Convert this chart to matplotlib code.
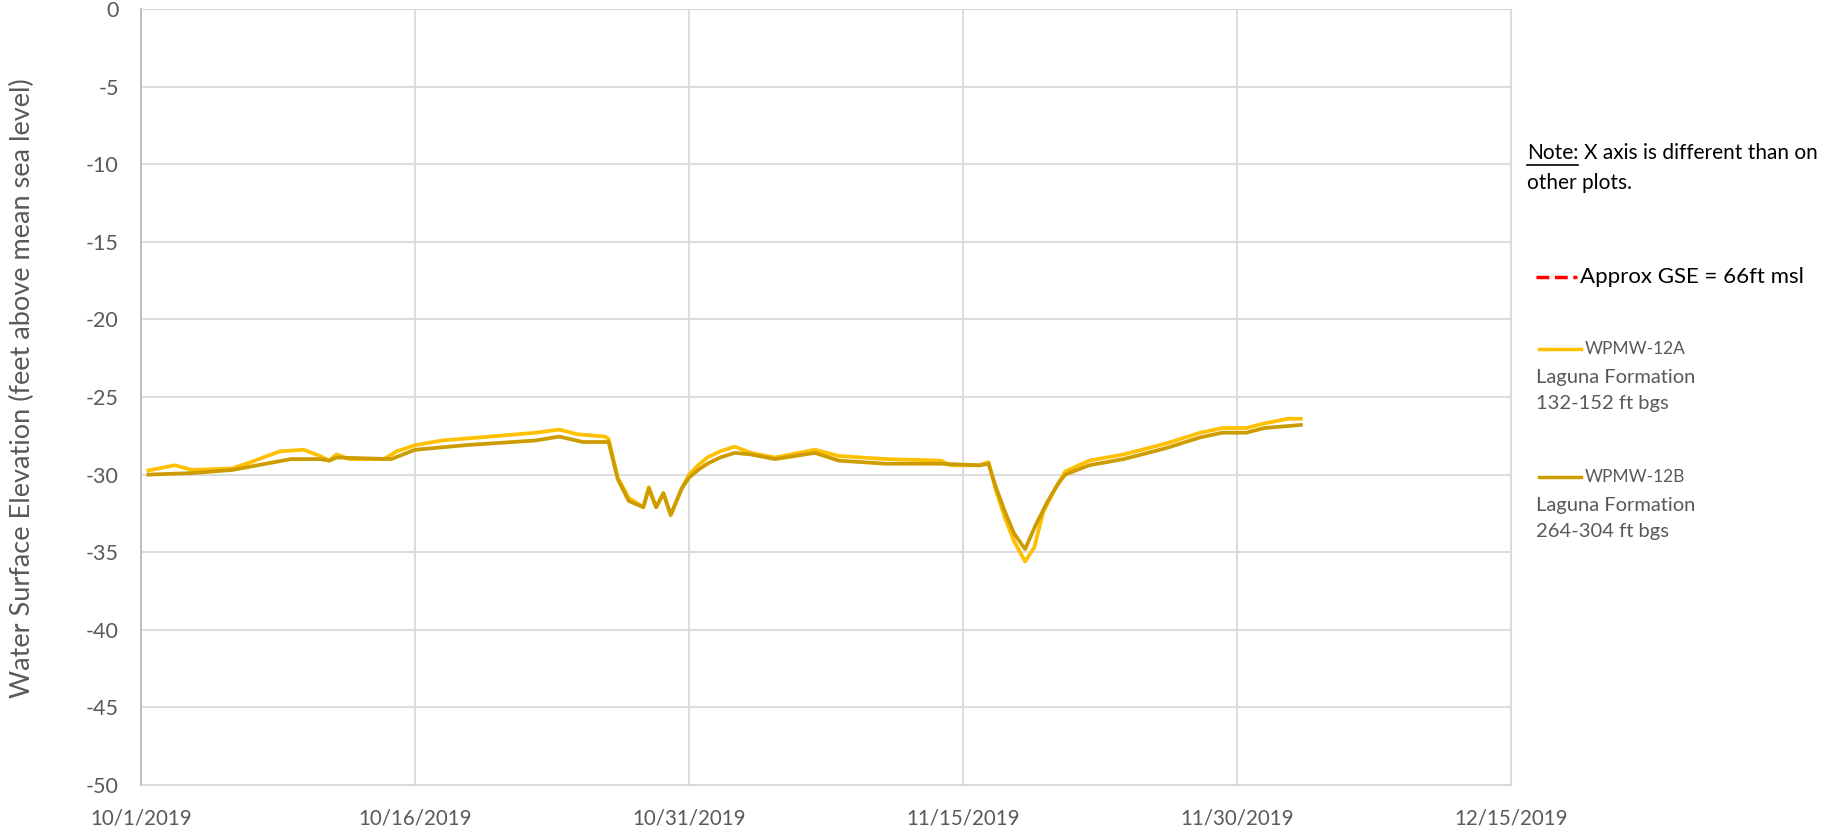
import matplotlib
matplotlib.use('Agg')
import matplotlib.pyplot as plt
from matplotlib.lines import Line2D
import numpy as np
import pandas as pd

plt.rcParams['font.family'] = ['Lato', 'DejaVu Sans']
plt.rcParams['axes.unicode_minus'] = False

start = pd.Timestamp('2019-10-01')

# days after 10/1/2019, elevation (ft msl)
days_a = [0.4, 1.85, 2.8, 5.0, 6.0, 7.6, 8.9, 9.8, 10.3, 10.7, 11.4, 13.3, 14.0, 15.0, 16.5,
          19.1, 21.6, 22.9, 23.9, 25.4, 25.6, 26.1, 26.7, 27.5, 27.8, 28.2, 28.6, 29.0, 29.6,
          30.0, 30.5, 31.0, 31.7, 32.5, 33.4, 34.7, 36.9, 38.2, 40.8, 43.8, 44.3, 45.9, 46.4,
          46.8, 47.3, 47.8, 48.4, 48.9, 49.4, 50.0, 50.6, 51.9, 53.8, 56.1, 58.0, 59.2, 60.5,
          61.5, 62.8, 63.5]
elev_a = [-29.73, -29.4, -29.7, -29.6, -29.2, -28.5, -28.4, -28.8, -29.1, -28.7, -29.0, -29.0,
          -28.5, -28.1, -27.8, -27.55, -27.3, -27.1, -27.4, -27.55, -27.7, -30.2, -31.5, -32.1,
          -30.8, -32.1, -31.2, -32.6, -30.9, -30.0, -29.4, -28.9, -28.5, -28.2, -28.6, -28.9,
          -28.4, -28.8, -29.0, -29.1, -29.4, -29.4, -29.2, -31.0, -32.8, -34.3, -35.6, -34.7,
          -32.4, -31.0, -29.8, -29.1, -28.7, -28.0, -27.3, -27.0, -27.0, -26.7, -26.4, -26.4]

days_b = [0.4, 2.8, 5.0, 8.2, 9.8, 10.3, 10.7, 13.7, 15.0, 17.8, 21.6, 22.9, 24.2, 25.6, 26.1,
          26.7, 27.5, 27.8, 28.2, 28.6, 29.0, 29.6, 30.0, 30.5, 31.0, 31.7, 32.5, 33.4, 34.7,
          36.9, 38.2, 40.8, 43.8, 45.9, 46.4, 46.8, 47.3, 47.8, 48.4, 49.0, 49.6, 50.2, 50.6,
          51.9, 53.8, 56.1, 58.0, 59.2, 60.5, 61.5, 63.5]
elev_b = [-30.0, -29.9, -29.7, -29.0, -29.0, -29.1, -28.9, -29.0, -28.4, -28.1, -27.8, -27.55,
          -27.9, -27.9, -30.3, -31.7, -32.1, -30.9, -32.1, -31.2, -32.6, -30.9, -30.2, -29.7,
          -29.3, -28.9, -28.6, -28.7, -29.0, -28.6, -29.1, -29.3, -29.3, -29.4, -29.3, -30.8,
          -32.4, -33.8, -34.8, -33.2, -31.8, -30.6, -30.0, -29.4, -29.0, -28.3, -27.6, -27.3,
          -27.3, -27.0, -26.8]

gse = 66
xtick_days = [0, 15, 30, 45, 60, 75]
xtick_labels = ['10/1/2019', '10/16/2019', '10/31/2019', '11/15/2019', '11/30/2019', '12/15/2019']
yticks = list(range(0, -55, -5))

color_a = '#FFC000'
color_b = '#CC9C00'
gray = '#595959'


def to_dates(days):
    return start + pd.to_timedelta(days, unit='D')


fig = plt.figure(figsize=(18.27, 8.33), dpi=100)
ax = fig.add_axes([0.0772, 0.0576, 0.7498, 0.9316])

ax.plot(to_dates(days_a), elev_a, color=color_a, lw=2.7, zorder=3)
ax.plot(to_dates(days_b), elev_b, color=color_b, lw=2.7, zorder=3)
ax.axhline(gse, color='red', ls='--', lw=2.5)

ax.set_xlim(to_dates([xtick_days[0], xtick_days[-1]]))
ax.set_ylim(-50, 0)
ax.set_xticks(to_dates(xtick_days))
ax.set_xticklabels(xtick_labels)
ax.set_yticks(yticks)
ax.set_yticklabels([str(v) for v in yticks])
ax.tick_params(length=0, labelsize=15.5, colors=gray)
ax.tick_params(axis='x', labelsize=14.8, pad=17)
ax.tick_params(axis='y', pad=16)
ax.grid(True, color='#D9D9D9', lw=1.3)
ax.set_axisbelow(True)
for side in ['top', 'right', 'bottom']:
    ax.spines[side].set_color('#D9D9D9')
ax.spines['left'].set_color('#BFBFBF')
ax.spines['left'].set_linewidth(1.5)
ax.set_ylabel('Water Surface Elevation (feet above mean sea level)', fontsize=19.5,
              color=gray)
ax.yaxis.set_label_coords(-0.0775, 0.512)

# legend / notes on the right
fw, fh = 1827, 833


def fx(px):
    return px / fw


def fy(py):
    return 1 - py / fh


note = fig.text(fx(1527), fy(153), 'Note:', fontsize=15, color='black', va='center')
fig.canvas.draw()
bb = note.get_window_extent()
fig.text(bb.x1 / fw + 0.003, fy(153), 'X axis is different than on', fontsize=15,
         color='black', va='center')
fig.add_artist(Line2D([bb.x0 / fw, bb.x1 / fw], [fy(165), fy(165)], color='black', lw=1.2))
fig.text(fx(1527), fy(183), 'other plots.', fontsize=15, color='black', va='center')

fig.add_artist(Line2D([fx(1536), fx(1577)], [fy(277), fy(277)], color='red', ls='--', lw=2.5))
fig.text(fx(1580), fy(277), 'Approx GSE = 66ft msl', fontsize=16, color='black', va='center')

fig.add_artist(Line2D([fx(1539), fx(1581)], [fy(349), fy(349)], color=color_a, lw=2.5))
fig.text(fx(1585), fy(349), 'WPMW-12A', fontsize=12.5, color=gray, va='center')
fig.text(fx(1536), fy(377), 'Laguna Formation', fontsize=14.5, color=gray, va='center')
fig.text(fx(1536), fy(404), '132-152 ft bgs', fontsize=14.5, color=gray, va='center')

fig.add_artist(Line2D([fx(1539), fx(1581)], [fy(477), fy(477)], color=color_b, lw=2.5))
fig.text(fx(1585), fy(477), 'WPMW-12B', fontsize=12.5, color=gray, va='center')
fig.text(fx(1536), fy(505), 'Laguna Formation', fontsize=14.5, color=gray, va='center')
fig.text(fx(1536), fy(532), '264-304 ft bgs', fontsize=14.5, color=gray, va='center')

fig.savefig('out.png', dpi=100)
